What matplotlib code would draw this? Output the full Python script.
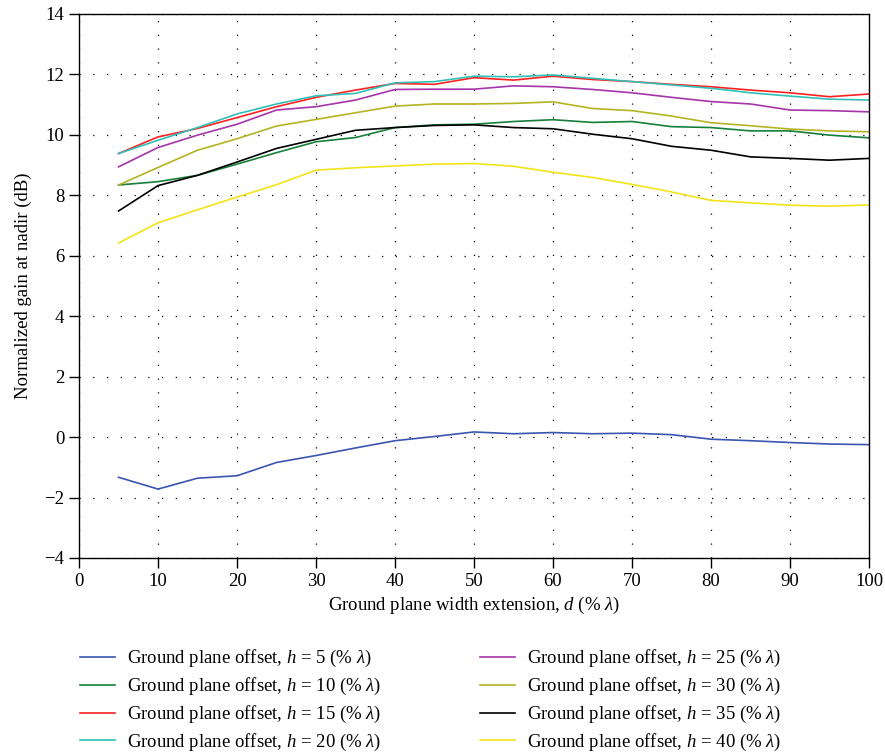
import matplotlib
matplotlib.use("Agg")
import matplotlib.pyplot as plt

plt.rcParams['font.family'] = ['Liberation Serif', 'DejaVu Serif']
plt.rcParams['mathtext.fontset'] = 'custom'
plt.rcParams['mathtext.it'] = 'Liberation Serif:italic'
plt.rcParams['mathtext.rm'] = 'Liberation Serif'

d = [5, 10, 15, 20, 25, 30, 35, 40, 45, 50, 55, 60, 65, 70, 75, 80, 85, 90, 95, 100]

h5 = [-1.33, -1.72, -1.36, -1.28, -0.84, -0.61, -0.36, -0.12, 0.02, 0.17,
      0.11, 0.15, 0.11, 0.13, 0.08, -0.07, -0.12, -0.18, -0.23, -0.25]
h10 = [8.34, 8.45, 8.66, 9.03, 9.41, 9.77, 9.91, 10.24, 10.33, 10.35,
       10.44, 10.50, 10.41, 10.44, 10.27, 10.24, 10.13, 10.13, 9.99, 9.90]
h15 = [9.38, 9.93, 10.21, 10.57, 10.93, 11.24, 11.48, 11.70, 11.67, 11.89,
       11.81, 11.94, 11.83, 11.76, 11.67, 11.59, 11.48, 11.39, 11.26, 11.35]
h20 = [9.38, 9.82, 10.24, 10.69, 11.02, 11.29, 11.37, 11.72, 11.76, 11.94,
       11.92, 11.98, 11.87, 11.76, 11.65, 11.54, 11.39, 11.28, 11.18, 11.15]
h25 = [8.94, 9.58, 9.99, 10.35, 10.82, 10.93, 11.15, 11.50, 11.51, 11.51,
       11.62, 11.59, 11.50, 11.39, 11.24, 11.10, 11.02, 10.82, 10.80, 10.76]
h30 = [8.34, 8.92, 9.49, 9.87, 10.29, 10.51, 10.73, 10.95, 11.02, 11.02,
       11.04, 11.09, 10.87, 10.80, 10.62, 10.40, 10.30, 10.19, 10.13, 10.10]
h35 = [7.48, 8.32, 8.66, 9.10, 9.55, 9.85, 10.15, 10.24, 10.31, 10.33,
       10.24, 10.20, 10.02, 9.87, 9.62, 9.49, 9.27, 9.22, 9.16, 9.22]
h40 = [6.42, 7.09, 7.52, 7.94, 8.35, 8.83, 8.91, 8.97, 9.03, 9.05,
       8.96, 8.76, 8.59, 8.36, 8.11, 7.83, 7.75, 7.67, 7.64, 7.68]

offsets = [5, 10, 15, 20, 25, 30, 35, 40]
series = [h5, h10, h15, h20, h25, h30, h35, h40]
colors = ['#3a55b0', '#16803a', '#ff2020', '#30c0b8',
          '#a535a8', '#b4b422', '#000000', '#f2e418']

fig = plt.figure(figsize=(8.85, 7.52), dpi=100)
ax = fig.add_axes([0.0893, 0.258, 0.8927, 0.7235])

for h, y, c in zip(offsets, series, colors):
    ax.plot(d, y, color=c, lw=1.2,
            label=r'Ground plane offset, $h$ = %d (%% $\lambda$)' % h)

ax.set_xlim(0, 100)
ax.set_ylim(-4, 14)
ax.set_xticks(range(0, 101, 10))
ax.set_yticks(range(-4, 15, 2))
ax.grid(True, color='black', lw=0.9, linestyle=(0, (1, 10)))
ax.tick_params(direction='out', length=7, width=1, labelsize=13.5)
for s in ax.spines.values():
    s.set_linewidth(1)

ax.set_xlabel(r'Ground plane width extension, $d$ (% $\lambda$)', fontsize=13.5)
ax.set_ylabel('Normalized gain at nadir (dB)', fontsize=13.5, labelpad=9)

ax.legend(loc='upper left', bbox_to_anchor=(-0.02, -0.135), ncol=2,
          frameon=False, fontsize=13.5, handlelength=1.85, handletextpad=0.65,
          columnspacing=5.3, labelspacing=0.36)

fig.savefig('out.png', dpi=100)
